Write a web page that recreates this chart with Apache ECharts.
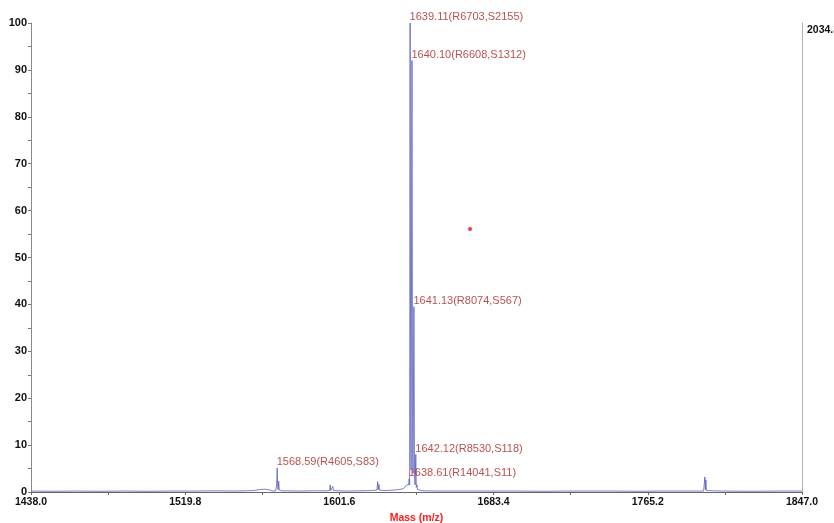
<!DOCTYPE html>
<html>
<head>
<meta charset="utf-8">
<script src="https://cdn.jsdelivr.net/npm/echarts@6/dist/echarts.min.js"></script>
<style>
  html, body { margin: 0; padding: 0; background: #fff; }
  #chart { width: 834px; height: 523px; }
</style>
</head>
<body>
<div id="chart"></div>
<script>
// Profile spectrum: m/z and relative intensity (%)
const spectrumMass = [
  1438.0, 1450.0, 1462.0, 1475.0, 1488.0, 1500.0, 1512.0, 1525.0, 1535.0, 1545.0,
  1552.0, 1556.0, 1559.0, 1562.0, 1564.5, 1566.0, 1567.8, 1568.3, 1568.59, 1568.85,
  1569.1, 1569.4, 1569.7, 1571.0, 1580.0, 1588.0, 1590.0, 1590.3, 1590.6, 1595.0,
  1596.4, 1596.7, 1597.0, 1597.8, 1598.1, 1598.4, 1605.0, 1612.0, 1618.0, 1621.5,
  1621.9, 1622.2, 1622.6, 1622.9, 1626.0, 1630.0, 1633.0, 1635.5, 1636.5, 1637.3,
  1638.0, 1638.4, 1638.61, 1638.85, 1639.11, 1639.45, 1639.65, 1640.10, 1640.45, 1640.7,
  1641.13, 1641.45, 1641.75, 1642.12, 1642.4, 1642.75, 1643.0, 1643.4, 1646.0, 1655.0,
  1668.0, 1680.0, 1695.0, 1710.0, 1722.0, 1735.0, 1748.0, 1760.0, 1772.0, 1784.0,
  1794.8, 1795.2, 1795.5, 1795.75, 1796.0, 1796.3, 1797.0, 1805.0, 1820.0, 1835.0,
  1847.0
];
const spectrumIntensity = [
  0.20, 0.15, 0.20, 0.15, 0.20, 0.15, 0.20, 0.20, 0.25, 0.20,
  0.25, 0.30, 0.50, 0.60, 0.45, 0.20, 0.25, 1.50, 5.10, 1.20,
  0.50, 2.30, 0.40, 0.25, 0.20, 0.25, 0.25, 0.60, 0.25, 0.25,
  0.30, 1.50, 0.30, 0.30, 1.20, 0.30, 0.20, 0.25, 0.30, 0.40,
  2.20, 0.50, 1.60, 0.40, 0.30, 0.40, 0.50, 0.70, 1.10, 1.50,
  1.70, 1.50, 2.80, 1.50, 100.0, 10.0, 5.00, 92.0, 8.00, 4.00,
  39.5, 3.50, 1.50, 8.00, 1.00, 1.50, 0.50, 0.30, 0.25, 0.20,
  0.20, 0.20, 0.20, 0.15, 0.20, 0.20, 0.20, 0.15, 0.20, 0.20,
  0.20, 0.40, 3.20, 0.50, 2.60, 0.30, 0.20, 0.20, 0.15, 0.20,
  0.20
];

// Annotated peaks: m/z, intensity, resolution, S/N
const peakMass = [1568.59, 1638.61, 1639.11, 1640.10, 1641.13, 1642.12];
const peakIntensity = [5.1, 2.8, 100.0, 92.0, 39.5, 8.0];
const peakResolution = [4605, 14041, 6703, 6608, 8074, 8530];
const peakSN = [83, 11, 2155, 1312, 567, 118];

// Axis ticks
const massTicks = [1438.0, 1519.8, 1601.6, 1683.4, 1765.2, 1847.0];
const massMinorTicks = [1478.9, 1560.7, 1642.5, 1724.3, 1806.1];
const intensityTicks = [0, 10, 20, 30, 40, 50, 60, 70, 80, 90, 100];
const intensityMinorTicks = [5, 15, 25, 35, 45, 55, 65, 75, 85, 95];
const absoluteMax = '2034.3';

// Cursor marker
const cursorPoint = [1670.9, 56.1];

const spectrum = spectrumMass.map((m, i) => [m, spectrumIntensity[i]]);
const peaks = peakMass.map((m, i) => [m, peakIntensity[i], i]);

const chart = echarts.init(document.getElementById('chart'), null, { renderer: 'canvas' });

const axisFont = 'Liberation Sans, Arial, Helvetica, sans-serif';

chart.setOption({
  animation: false,
  backgroundColor: '#ffffff',
  grid: {
    left: 31, right: 32, top: 23, bottom: 31,
    containLabel: false,
    outerBoundsMode: 'none'
  },
  xAxis: {
    type: 'value',
    min: 1438.0,
    max: 1847.0,
    name: 'Mass (m/z)',
    nameLocation: 'middle',
    nameGap: 20,
    nameTextStyle: { color: '#ff1a1a', fontWeight: 'bold', fontSize: 10.5, fontFamily: axisFont },
    axisLine: { show: true, onZero: false, lineStyle: { color: '#666', width: 1 } },
    axisTick: {
      show: true, length: 3, inside: false,
      customValues: massTicks.concat(massMinorTicks),
      lineStyle: { color: '#666' }
    },
    axisLabel: {
      customValues: massTicks,
      formatter: v => Number(v).toFixed(1),
      color: '#111', fontWeight: 'bold', fontSize: 10.5, fontFamily: axisFont, margin: 5
    },
    splitLine: { show: false }
  },
  yAxis: [{
    type: 'value',
    min: 0,
    max: 100,
    position: 'left',
    axisLine: { show: true, lineStyle: { color: '#8a8a8a', width: 1 } },
    axisTick: {
      show: true, length: 3,
      customValues: intensityTicks.concat(intensityMinorTicks),
      lineStyle: { color: '#777' }
    },
    axisLabel: {
      customValues: intensityTicks,
      color: '#111', fontWeight: 'bold', fontSize: 11, fontFamily: axisFont, margin: 4
    },
    splitLine: { show: false }
  }, {
    type: 'value',
    min: 0,
    max: 100,
    position: 'right',
    axisLine: { show: true, lineStyle: { color: '#b0b0b0', width: 1 } },
    axisTick: { show: false },
    axisLabel: { show: false },
    splitLine: { show: false }
  }],
  graphic: [{
    type: 'text',
    left: 807,
    top: 25,
    style: {
      text: absoluteMax,
      fill: '#111',
      font: 'bold 10.5px ' + axisFont
    }
  }],
  series: [{
    type: 'line',
    data: spectrum,
    showSymbol: false,
    symbol: 'none',
    lineStyle: { color: '#5a5fbf', width: 1, opacity: 0.8 },
    z: 2
  }, {
    type: 'scatter',
    data: peaks,
    symbolSize: 1,
    itemStyle: { color: 'rgba(0,0,0,0)' },
    label: {
      show: true,
      position: [0, 0],
      align: 'left',
      verticalAlign: 'bottom',
      offset: [0, 3],
      color: '#a82626',
      fontSize: 11,
      fontFamily: axisFont,
      formatter: p => {
        const i = p.data[2];
        return peakMass[i].toFixed(2) + '(R' + peakResolution[i] + ',S' + peakSN[i] + ')';
      }
    },
    labelLayout: { hideOverlap: false },
    z: 3
  }, {
    type: 'scatter',
    data: [cursorPoint],
    symbol: 'circle',
    symbolSize: 4,
    itemStyle: { color: '#ff0000' },
    z: 4
  }]
});
</script>
</body>
</html>
